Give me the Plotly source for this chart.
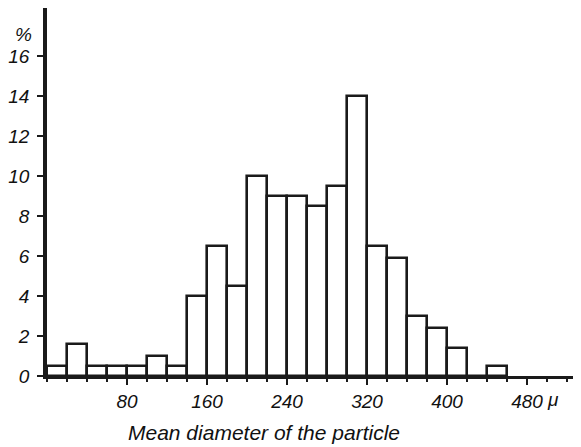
import plotly.graph_objects as go

# bin left edges (microns), bin width 20
bin_left = [0, 20, 40, 60, 80, 100, 120, 140, 160, 180, 200, 220, 240, 260, 280,
            300, 320, 340, 360, 380, 400, 420, 440]
percent = [0.5, 1.6, 0.5, 0.5, 0.5, 1.0, 0.5, 4.0, 6.5, 4.5, 10.0, 9.0, 9.0, 8.5, 9.5,
           14.0, 6.5, 5.9, 3.0, 2.4, 1.4, 0.0, 0.5]
bin_width = 20

x_tickvals = [80, 160, 240, 320, 400, 480]
x_ticktext = ["80", "160", "240", "320", "400", "480"]
y_tickvals = [0, 2, 4, 6, 8, 10, 12, 14, 16]
y_ticktext = ["0", "2", "4", "6", "8", "10", "12", "14", "16"]
x_title = "Mean diameter of the particle"
unit_label = "μ"
y_unit = "%"

centers = [b + bin_width / 2 for b in bin_left]

fig = go.Figure()
fig.add_trace(go.Bar(
    x=centers, y=percent, width=[bin_width] * len(centers),
    marker=dict(color="white", line=dict(color="#1a1a1a", width=2.6)),
    showlegend=False,
))

font = dict(family="Liberation Sans", size=19, color="#111", style="italic")
tfont = dict(family="Liberation Sans", size=21, color="#111", style="italic")

# page body has an 8px default margin, so the figure is sized to fit the 581x447 window
W, H = 573, 439
L, T, B = 39, 0, 71
plot_w = W - L
plot_h = H - T - B

fig.update_layout(
    width=W, height=H,
    margin=dict(l=L, r=0, t=T, b=B),
    paper_bgcolor="white", plot_bgcolor="white",
    font=font,
    bargap=0,
    xaxis=dict(
        range=[0, plot_w], tickvals=x_tickvals, ticktext=x_ticktext,
        automargin=False,
        showgrid=False, zeroline=False,
        showline=True, linecolor="#1a1a1a", linewidth=3,
        ticks="outside", ticklen=6, tickwidth=2, tickcolor="#1a1a1a",
        minor=dict(dtick=20, tick0=0, ticks="outside", ticklen=3, tickwidth=1.5, tickcolor="#1a1a1a"),
        tickfont=font,
    ),
    yaxis=dict(
        range=[0, plot_h / 20], tickvals=y_tickvals, ticktext=y_ticktext,
        automargin=False,
        showgrid=False, zeroline=False,
        showline=True, linecolor="#1a1a1a", linewidth=3.5,
        ticks="outside", ticklen=6, tickwidth=2, tickcolor="#1a1a1a",
        ticklabelstandoff=4,
        tickfont=font,
    ),
    annotations=[
        dict(text=y_unit, x=-24 / plot_w, xref="paper", y=17.1, yref="y",
             showarrow=False, font=font, xanchor="center"),
        dict(text=unit_label, x=506 / plot_w, xref="paper", y=-11 / plot_h, yref="paper",
             showarrow=False, font=font, yanchor="top", xanchor="center"),
        dict(text=x_title, x=217 / plot_w, xref="paper", y=-56 / plot_h, yref="paper",
             showarrow=False, font=tfont, yanchor="middle", xanchor="center"),
    ],
)

fig.write_html("out.html")
